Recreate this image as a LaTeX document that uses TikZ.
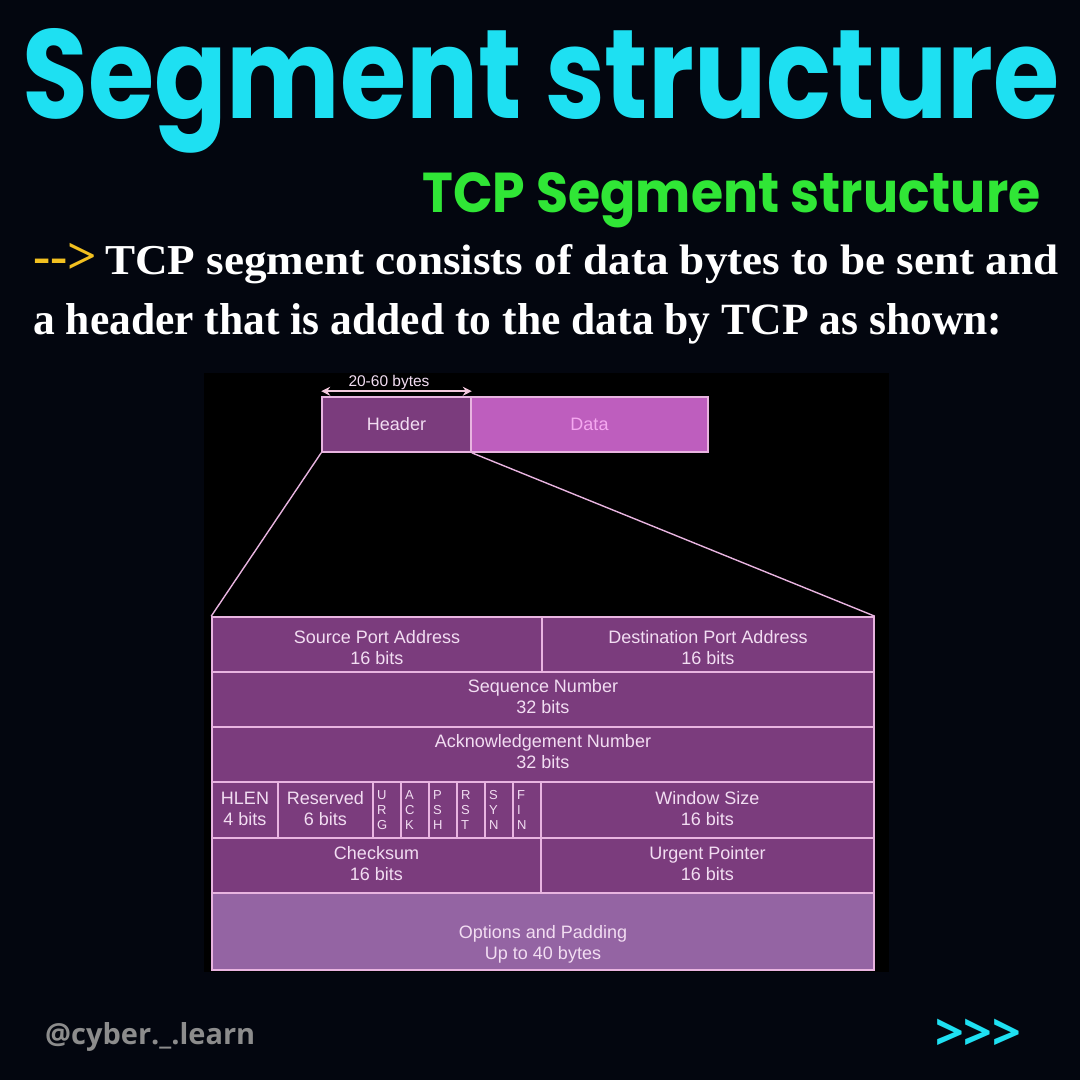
\documentclass[tikz,border=0pt]{standalone}
\usepackage{fontspec}
\usepackage{graphicx}
\setmainfont{Liberation Sans}
\newfontfamily\titlefont{Poppins}
\newfontfamily\bodyfont{Liberation Serif}
\newfontfamily\handlefont{Open Sans}
\usetikzlibrary{arrows.meta}
\newcommand\myupgap[1]{\rule{0pt}{#1}}
\newcommand\mydowngap[1]{\rule[-#1]{0pt}{0pt}}
\definecolor{bgc}{HTML}{03060F}
\definecolor{cellc}{HTML}{7B3C7D}
\definecolor{datac}{HTML}{BE5EBE}
\definecolor{optc}{HTML}{9464A3}
\definecolor{linec}{HTML}{E8B4E0}
\definecolor{txtc}{HTML}{F2DDF2}
\definecolor{datatxt}{HTML}{F5A8F0}
\definecolor{cyanc}{HTML}{1EE0F2}
\definecolor{greenc}{HTML}{30E636}
\definecolor{yelc}{HTML}{F2C020}
\definecolor{grayc}{HTML}{8C8C8C}
\definecolor{arrc}{HTML}{F2C8DC}
\tikzset{
  cell/.style={draw=linec, line width=1.6pt, fill=cellc, inner sep=0pt, text=txtc,
    font=\fontsize{18}{21}\selectfont, align=center},
  flagcell/.style={cell, font=\fontsize{13}{15}\selectfont, align=left,
    text width=20pt, inner xsep=4pt},
  link/.style={draw=linec, line width=1.4pt}
}
\begin{document}
\begin{tikzpicture}[x=1pt,y=-1pt]
\fill[bgc] (0,0) rectangle (1080,1080);
\useasboundingbox (0,0) rectangle (1080,1080);
% titles
\node[anchor=base west, inner sep=0pt, text=cyanc] (title) at (22,118)
  {\resizebox{1036pt}{90pt}{\titlefont\bfseries Segment structure}};
\node[anchor=base west, inner sep=0pt, text=greenc] (subtitle) at (422,212)
  {\resizebox{618pt}{40pt}{\titlefont\bfseries TCP Segment structure}};
% body text
\node[anchor=base west, inner sep=0pt, text=yelc] (arrow) at (33,273)
  {\resizebox{64pt}{!}{\bodyfont\bfseries -{}->}};
\node[anchor=base west, inner sep=0pt, text=white] (line1) at (105,274)
  {\resizebox{953pt}{30pt}{\bodyfont\bfseries TCP segment consists of data bytes to be sent and}};
\node[anchor=base west, inner sep=0pt, text=white] (line2) at (33,334)
  {\resizebox{969pt}{31pt}{\bodyfont\bfseries a header that is added to the data by TCP as shown:}};
% black panel
\fill[black] (204,373) rectangle (889,972);
% header/data
\node[cell, minimum width=149pt, minimum height=55pt] (hdr) at (396.5,424.5) {Header};
\node[cell, fill=datac, text=datatxt, minimum width=237pt, minimum height=55pt] (data) at (589.5,424.5) {Data};
\draw[arrc, line width=2pt, {Stealth[length=9pt,width=9pt]}-{Stealth[length=9pt,width=9pt]}]
  ([yshift=5pt]hdr.north west) -- ([yshift=5pt]hdr.north east);
\node[text=txtc, font=\fontsize{15.5}{18}\selectfont, inner sep=0pt] (len) at (389,382) {20-60 bytes};
% table
\node[cell, minimum width=330pt, minimum height=55pt] (sp) at (377,644.5) {\myupgap{20pt}Source Port Address\\16 bits};
\node[cell, minimum width=332pt, minimum height=55pt] (dp) at (708,644.5) {\myupgap{20pt}Destination Port Address\\16 bits};
\node[cell, minimum width=662pt, minimum height=55pt] (seq) at (543,699.5) {Sequence Number\\32 bits\mydowngap{6pt}};
\node[cell, minimum width=662pt, minimum height=55pt] (ack) at (543,754.5) {Acknowledgement Number\\32 bits\mydowngap{6pt}};
\node[cell, minimum width=66pt, minimum height=56pt] (hlen) at (245,810) {HLEN\\4 bits\mydowngap{3pt}};
\node[cell, minimum width=95pt, minimum height=56pt] (res) at (325.5,810) {Reserved\\6 bits\mydowngap{3pt}};
\node[flagcell, minimum height=56pt] (furg) at (387,810) {U\\R\\G};
\node[flagcell, minimum height=56pt] (fack) at (415,810) {A\\C\\K};
\node[flagcell, minimum height=56pt] (fpsh) at (443,810) {P\\S\\H};
\node[flagcell, minimum height=56pt] (frst) at (471,810) {R\\S\\T};
\node[flagcell, minimum height=56pt] (fsyn) at (499,810) {S\\Y\\N};
\node[flagcell, minimum height=56pt] (ffin) at (527,810) {F\\I\\N};
\node[cell, minimum width=333pt, minimum height=56pt] (win) at (707.5,810) {Window Size\\16 bits\mydowngap{3pt}};
\node[cell, minimum width=329pt, minimum height=55pt] (chk) at (376.5,865.5) {Checksum\\16 bits\mydowngap{5pt}};
\node[cell, minimum width=333pt, minimum height=55pt] (urg) at (707.5,865.5) {Urgent Pointer\\16 bits\mydowngap{5pt}};
\node[cell, fill=optc, minimum width=662pt, minimum height=77pt] (opt) at (543,931.5) {\myupgap{38pt}Options and Padding\\Up to 40 bytes};
% zoom lines
\draw[link] (hdr.south west) -- (sp.north west);
\draw[link] (hdr.south east) -- (dp.north east);
% footer
\node[anchor=base west, inner sep=0pt, text=grayc] (handle) at (45,1044)
  {\resizebox{210pt}{!}{\handlefont\bfseries @cyber.\_.learn}};
\node[anchor=base west, inner sep=0pt, text=cyanc] (next) at (935,1050)
  {\resizebox{86pt}{!}{\handlefont\bfseries >{}>{}>}};
\end{tikzpicture}
\end{document}
